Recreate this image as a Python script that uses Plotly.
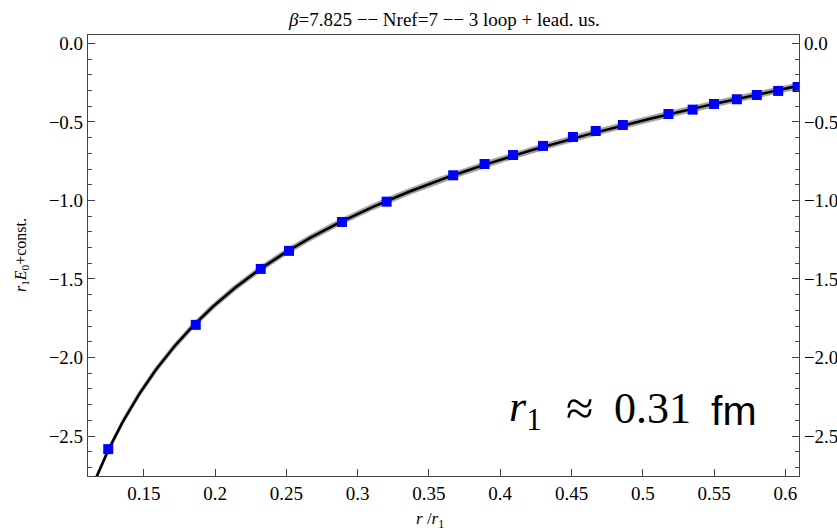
import numpy as np
import plotly.graph_objects as go

# Measured static potential: separation r/r1 and r1*E0 (shifted by a constant)
r_over_r1 = [0.125, 0.1864, 0.232, 0.2518, 0.289, 0.3203, 0.367, 0.389, 0.409,
             0.430, 0.451, 0.467, 0.486, 0.518, 0.535, 0.550, 0.566, 0.580,
             0.595, 0.6086]
r1_E0 = [-2.583, -1.792, -1.436, -1.321, -1.137, -1.008, -0.840, -0.768, -0.711,
         -0.653, -0.596, -0.558, -0.520, -0.450, -0.422, -0.386, -0.356, -0.329,
         -0.303, -0.278]

x_ticks = [0.15, 0.2, 0.25, 0.3, 0.35, 0.4, 0.45, 0.5, 0.55, 0.6]
x_tick_text = ["0.15", "0.2", "0.25", "0.3", "0.35", "0.4", "0.45", "0.5", "0.55", "0.6"]
y_ticks = [0.0, -0.5, -1.0, -1.5, -2.0, -2.5]

X_RANGE = [0.1108, 0.6096]
Y_RANGE = [-2.754, 0.053]
BAND_HALF = 0.02  # half-width of the shaded uncertainty band

# Cornell-type fit a/r + b*r + c through the points
r = np.array(r_over_r1)
v = np.array(r1_E0)
A = np.vstack([1.0 / r, r, np.ones_like(r)]).T
coef, *_ = np.linalg.lstsq(A, v, rcond=None)
rr = np.linspace(0.105, 0.62, 400)
vv = coef[0] / rr + coef[1] * rr + coef[2]

serif = "Liberation Serif"
sans = "Liberation Sans"
axis_col = "#444444"

# plot-area geometry in pixels (used to place paper-coordinate labels)
W, H = 837, 532
ML, MR, MT, MB = 88, 38, 35, 56
PW, PH = W - ML - MR, H - MT - MB


def px_x(px):
    return (px - ML) / PW


def px_y(py):
    return (H - MB - py) / PH


fig = go.Figure()

# uncertainty band
fig.add_trace(go.Scatter(x=rr, y=vv + BAND_HALF, mode="lines",
                         line=dict(color="rgba(160,160,160,1)", width=0.5),
                         hoverinfo="skip", showlegend=False))
fig.add_trace(go.Scatter(x=rr, y=vv - BAND_HALF, mode="lines", fill="tonexty",
                         fillcolor="rgba(160,160,160,1)",
                         line=dict(color="rgba(160,160,160,1)", width=0.5),
                         hoverinfo="skip", showlegend=False))
# central fit curve
fig.add_trace(go.Scatter(x=rr, y=vv, mode="lines",
                         line=dict(color="black", width=2.5),
                         hoverinfo="skip", showlegend=False))
# data points
fig.add_trace(go.Scatter(x=r_over_r1, y=r1_E0, mode="markers",
                         marker=dict(symbol="square", size=10, color="#0000ff",
                                     line=dict(width=0)),
                         showlegend=False))
# dummy trace to activate the right-hand axis
fig.add_trace(go.Scatter(x=[None], y=[None], yaxis="y2", showlegend=False))

tick_font = dict(family=serif, size=19, color="black")
y_common = dict(range=Y_RANGE, tickvals=y_ticks, tickformat=".1f",
                ticks="inside", ticklen=7, tickwidth=1, tickcolor=axis_col,
                minor=dict(dtick=0.1, ticks="inside", ticklen=4,
                           tickcolor=axis_col, showgrid=False),
                showline=True, linecolor=axis_col, linewidth=1.2,
                showgrid=False, zeroline=False, tickfont=tick_font,
                automargin=False)

big = dict(family=serif, size=44, color="black")

fig.update_layout(
    width=W, height=H,
    margin=dict(l=ML, r=MR, t=MT, b=MB, pad=0, autoexpand=False),
    paper_bgcolor="white", plot_bgcolor="white",
    font=dict(family=serif, color="black"),
    xaxis=dict(range=X_RANGE, tickvals=x_ticks, ticktext=x_tick_text,
               ticks="inside", ticklen=7, tickwidth=1, tickcolor=axis_col,
               showline=True, linecolor=axis_col, linewidth=1.2, mirror=True,
               showgrid=False, zeroline=False, tickfont=tick_font,
               automargin=False),
    yaxis=dict(**y_common),
    yaxis2=dict(**y_common, overlaying="y", side="right"),
    annotations=[
        dict(text="<i>β</i>=7.825 −− Nref=7 −− 3 loop + lead. us.",
             xref="paper", yref="paper", x=0.5, y=px_y(19),
             xanchor="center", yanchor="middle", showarrow=False,
             font=dict(family=serif, size=19, color="black")),
        dict(text="<i>r</i> /<i>r</i><sub>1</sub>",
             xref="paper", yref="paper", x=px_x(430), y=px_y(520),
             xanchor="center", yanchor="middle", showarrow=False,
             font=dict(family=serif, size=17, color="black")),
        dict(text="<i>r</i><sub>1</sub><i>E</i><sub>0</sub>+const.",
             xref="paper", yref="paper", x=px_x(21), y=px_y(255),
             textangle=-90, xanchor="center", yanchor="middle", showarrow=False,
             font=dict(family=serif, size=16, color="black")),
        # scale label, set piece by piece for math-style spacing
        dict(text="<i>r</i><sub>1</sub>",
             xref="paper", yref="paper", x=px_x(507), y=px_y(409),
             xanchor="left", yanchor="middle", showarrow=False, font=big),
        dict(text="≈",
             xref="paper", yref="paper", x=px_x(579), y=px_y(408),
             xanchor="center", yanchor="middle", showarrow=False,
             font=dict(family=serif, size=50, color="black")),
        dict(text="0.31",
             xref="paper", yref="paper", x=px_x(612), y=px_y(408),
             xanchor="left", yanchor="middle", showarrow=False, font=big),
        dict(text="fm",
             xref="paper", yref="paper", x=px_x(709), y=px_y(411),
             xanchor="left", yanchor="middle", showarrow=False,
             font=dict(family=sans, size=41, color="black")),
    ],
)

fig.write_html("out.html")
